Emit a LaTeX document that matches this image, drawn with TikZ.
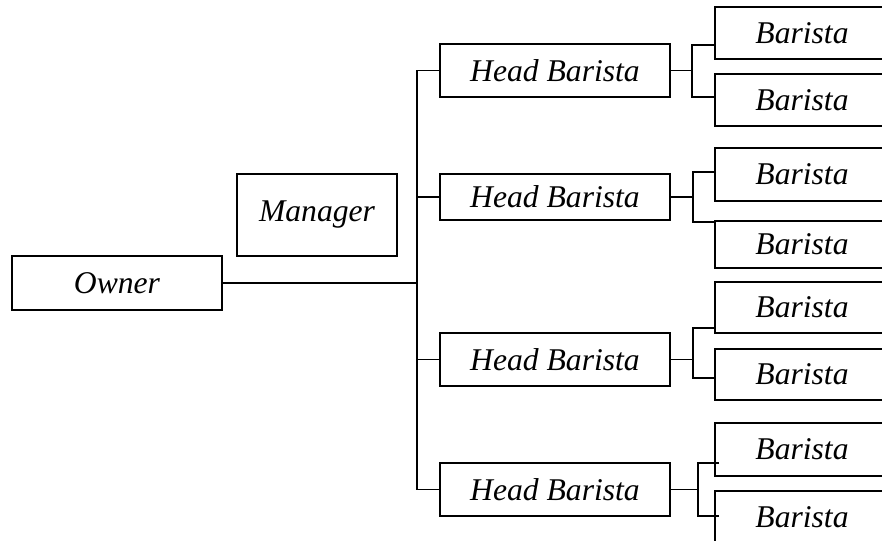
\documentclass[tikz,border=0pt]{standalone}
\usepackage{fontspec}
\setmainfont{Liberation Serif}
\usepackage{tikz}

\tikzset{
  box/.style={draw, line width=1.5pt, inner sep=0pt, font=\fontsize{27}{30}\selectfont\itshape},
  link/.style={line width=1.5pt}
}

\begin{document}
\begin{tikzpicture}[x=0.03cm, y=-0.03cm]
\useasboundingbox (0, 0) rectangle (882, 541);
\clip (0, 0) rectangle (882, 541);

\node[box, minimum width=210*0.03cm, minimum height=54*0.03cm] (owner) at (117, 283) {Owner};
\node[box, minimum width=160*0.03cm, minimum height=82*0.03cm] (manager) at (317, 215) {Manager};

\node[box, minimum width=230*0.03cm, minimum height=53*0.03cm] (hb1) at (555, 70.5) {Head Barista};
\node[box, minimum width=230*0.03cm, minimum height=46*0.03cm] (hb2) at (555, 197) {Head Barista};
\node[box, minimum width=230*0.03cm, minimum height=53*0.03cm] (hb3) at (555, 359.5) {Head Barista};
\node[box, minimum width=230*0.03cm, minimum height=53*0.03cm] (hb4) at (555, 489.5) {Head Barista};

\node[box, minimum width=174*0.03cm, minimum height=52*0.03cm] (b1) at (802, 33) {Barista};
\node[box, minimum width=174*0.03cm, minimum height=52*0.03cm] (b2) at (802, 100) {Barista};
\node[box, minimum width=174*0.03cm, minimum height=53*0.03cm] (b3) at (802, 174.5) {Barista};
\node[box, minimum width=174*0.03cm, minimum height=47*0.03cm] (b4) at (802, 244.5) {Barista};
\node[box, minimum width=174*0.03cm, minimum height=51*0.03cm] (b5) at (802, 307.5) {Barista};
\node[box, minimum width=174*0.03cm, minimum height=51*0.03cm] (b6) at (802, 374.5) {Barista};
\node[box, minimum width=174*0.03cm, minimum height=53*0.03cm] (b7) at (802, 449.5) {Barista};
\node[box, minimum width=174*0.03cm, minimum height=53*0.03cm] (b8) at (802, 517.5) {Barista};

% trunk from owner to the head baristas
\coordinate (hub) at (417, 283);
\draw[link] (owner.east) -- (hub);
\draw[link] (hb1.west) -| (hub) |- (hb4.west);
\draw[link] (hb2.west) -- (hb2.west -| hub);
\draw[link] (hb3.west) -- (hb3.west -| hub);

% brackets to the baristas
\coordinate (t1) at (692, 45);
\coordinate (u1) at (692, 97);
\coordinate (t2) at (693, 172);
\coordinate (u2) at (693, 222);
\coordinate (t3) at (693, 328);
\coordinate (u3) at (693, 378);
\coordinate (t4) at (698, 463);
\coordinate (u4) at (698, 516);

\draw[link] (hb1.east) -- (hb1.east -| t1);
\draw[link] (b1.west |- t1) -- (t1) -- (u1) -- (b2.west |- u1);
\draw[link] (hb2.east) -- (hb2.east -| t2);
\draw[link] ([xshift=0.06cm]b3.west |- t2) -- (t2) -- (u2) -- ([xshift=0.06cm]b4.west |- u2);
\draw[link] (hb3.east) -- (hb3.east -| t3);
\draw[link] (b5.west |- t3) -- (t3) -- (u3) -- (b6.west |- u3);
\draw[link] (hb4.east) -- (hb4.east -| t4);
\draw[link] ([xshift=0.15cm]b7.west |- t4) -- (t4) -- (u4) -- ([xshift=0.15cm]b8.west |- u4);
\end{tikzpicture}
\end{document}
